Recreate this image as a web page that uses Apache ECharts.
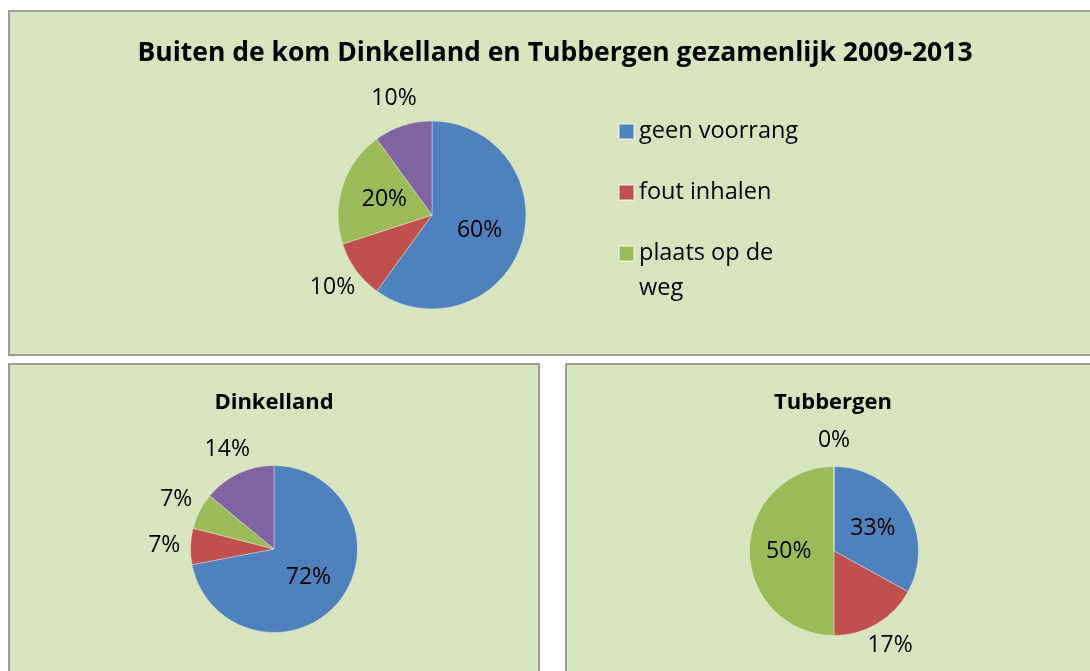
<!DOCTYPE html>
<html>
<head>
<meta charset="utf-8">
<script src="https://cdn.jsdelivr.net/npm/echarts@6/dist/echarts.min.js"></script>
<style>
  html, body { margin: 0; padding: 0; background: #fff; width: 1090px; height: 671px; overflow: hidden; }
  .panel { position: absolute; background: #D7E4BD; border: 2px solid #9c9c9c; }
  .panel div { width: 100%; height: 100%; }
  #p-top { left: 8px; top: 10px; width: 1090px; height: 342px; }
  #p-dink { left: 8px; top: 363px; width: 528px; height: 320px; }
  #p-tubb { left: 565px; top: 363px; width: 532px; height: 320px; }
</style>
</head>
<body>
<div class="panel" id="p-top"><div id="total"></div></div>
<div class="panel" id="p-dink"><div id="dinkelland"></div></div>
<div class="panel" id="p-tubb"><div id="tubbergen"></div></div>
<script>
var categories = ['geen voorrang', 'fout inhalen', 'plaats op de weg', 'overig'];
var legendItems = ['geen voorrang', 'fout inhalen', 'plaats op de weg']; // 4th one is cut off in the original

var totalValues = [60, 10, 20, 10];
var dinkellandValues = [72, 7, 7, 14];
var tubbergenValues = [33, 17, 50, 0];

var colors = ['#4F81BD', '#C0504D', '#9BBB59', '#8064A2'];

// which slice labels excel put outside the pie
var outsideTotal = [false, true, false, true];
var outsideDink = [false, true, true, true];
var outsideTubb = [false, true, false, true];

var FONT = 'Open Sans';

var labelStyle = {
    position: 'inside',
    formatter: '{c}%',
    color: '#000',
    fontSize: 23,
    fontFamily: FONT
};

// main pie + a transparent ring that only carries the outside labels
function pieSeries(values, outside, center, r, ring) {
    var main = {
        type: 'pie',
        center: center,
        radius: [0, r],
        silent: true,
        startAngle: 90,
        itemStyle: { borderColor: 'rgba(255,255,255,0.45)', borderWidth: 0.75 },
        label: labelStyle,
        labelLine: { show: false },
        data: values.map(function (v, i) {
            return { name: categories[i], value: v, itemStyle: { color: colors[i] }, label: { show: !outside[i] } };
        })
    };
    var outer = {
        type: 'pie',
        center: center,
        radius: [r, ring],
        silent: true,
        startAngle: 90,
        itemStyle: { color: 'rgba(0,0,0,0)', borderWidth: 0 },
        label: labelStyle,
        labelLine: { show: false },
        data: values.map(function (v, i) {
            return { name: categories[i], value: v, label: { show: outside[i] } };
        })
    };
    return [main, outer];
}

function titleOpt(text, size, top) {
    return {
        text: text,
        left: 'center',
        top: top,
        textStyle: { fontFamily: FONT, fontWeight: 'bold', fontSize: size, color: '#000' }
    };
}

var totalChart = echarts.init(document.getElementById('total'));
totalChart.setOption({
    animation: false,
    title: titleOpt('Buiten de kom Dinkelland en Tubbergen gezamenlijk 2009-2013', 26.5, 23),
    legend: {
        data: legendItems,
        orient: 'vertical',
        left: 608,
        top: 102,
        padding: 0,
        itemWidth: 15,
        itemHeight: 15,
        itemGap: 26,
        icon: 'rect',
        textStyle: {
            fontSize: 23.5, fontFamily: FONT, color: '#000',
            lineHeight: 35, height: 35, width: 170, overflow: 'break',
            rich: { t: {} } // rich mode so the wrapped line hangs below the icon
        }
    },
    series: pieSeries(totalValues, outsideTotal, [422, 203], 94, 146)
});

var dinkChart = echarts.init(document.getElementById('dinkelland'));
dinkChart.setOption({
    animation: false,
    title: titleOpt('Dinkelland', 22, 22),
    series: pieSeries(dinkellandValues, outsideDink, [264, 184], 83.5, 130)
});

var tubbChart = echarts.init(document.getElementById('tubbergen'));
tubbChart.setOption({
    animation: false,
    title: titleOpt('Tubbergen', 22, 22),
    series: pieSeries(tubbergenValues, outsideTubb, [267, 186], 84.5, 130)
});
</script>
</body>
</html>
